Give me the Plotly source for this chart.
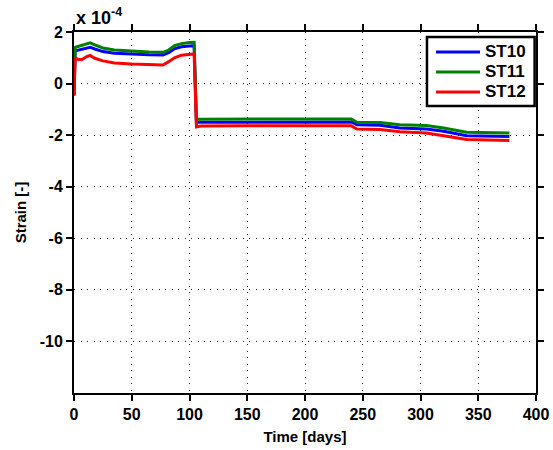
import plotly.graph_objects as go

# Time in days (shared sampling for all series)
days = [0, 1, 2, 4, 7, 11, 14, 18, 25, 35, 50, 65, 77, 82, 87, 93, 100, 104, 106, 110,
        150, 200, 240, 245, 265, 282, 305, 320, 340, 377]

# Strain values in units of 1e-4
st10 = [-0.45, 1.25, 1.28, 1.30, 1.33, 1.38, 1.41, 1.34, 1.24, 1.18, 1.14, 1.12, 1.11, 1.20,
        1.35, 1.43, 1.46, 1.47, -1.50, -1.50, -1.49, -1.49, -1.49, -1.60, -1.62, -1.72, -1.76,
        -1.85, -2.02, -2.05]
st11 = [-0.47, 1.40, 1.42, 1.45, 1.48, 1.55, 1.58, 1.50, 1.38, 1.30, 1.25, 1.22, 1.21, 1.30,
        1.47, 1.55, 1.59, 1.60, -1.38, -1.38, -1.37, -1.37, -1.37, -1.50, -1.51, -1.60, -1.63,
        -1.72, -1.89, -1.92]
st12 = [-0.45, 0.96, 0.97, 0.93, 0.93, 1.05, 1.09, 0.98, 0.88, 0.80, 0.76, 0.74, 0.72, 0.85,
        1.00, 1.10, 1.14, 1.15, -1.68, -1.65, -1.64, -1.64, -1.64, -1.76, -1.78, -1.87, -1.92,
        -2.02, -2.17, -2.21]

series_names = ["ST10", "ST11", "ST12"]
series_values = [st10, st11, st12]
colors = ["#0000ff", "#008000", "#ff0000"]

x_ticks = [0, 50, 100, 150, 200, 250, 300, 350, 400]
y_ticks = [2, 0, -2, -4, -6, -8, -10]
y_ticklabels = ["2", "0", "-2", "-4", "-6", "-8", "-10"]

fig = go.Figure()
for name, vals, c in zip(series_names, series_values, colors):
    fig.add_trace(go.Scatter(x=days, y=vals, mode="lines", name=name,
                             line=dict(color=c, width=3), showlegend=False))

font_family = "Liberation Sans, Arial, sans-serif"
axis_common = dict(
    showline=True, linecolor="black", linewidth=2, mirror="ticks",
    ticks="outside", ticklen=6, tickwidth=1.5, tickcolor="black",
    showgrid=True, gridcolor="#222222", griddash="1px,5.5px", gridwidth=1,
    zeroline=False, automargin=False,
    tickfont=dict(family=font_family, size=16, color="black", weight="bold"),
)

fig.update_layout(
    width=553, height=450,
    margin=dict(l=74, r=17, t=32, b=57),
    paper_bgcolor="white", plot_bgcolor="white",
    showlegend=False,
    xaxis=dict(range=[0, 400], tickvals=x_ticks,
               title=dict(text="Time [days]", standoff=9,
                          font=dict(family=font_family, size=15, color="black", weight="bold")),
               **axis_common),
    yaxis=dict(range=[-12, 2], tickvals=y_ticks, ticktext=y_ticklabels,
               title=dict(text="Strain [-]", standoff=9,
                          font=dict(family=font_family, size=15, color="black", weight="bold")),
               **axis_common),
)

# Legend box (MATLAB style), drawn in paper coordinates
fig.add_shape(type="rect", xref="paper", yref="paper", x0=0.764, x1=0.997, y0=0.795, y1=0.986,
              line=dict(color="black", width=2.5), fillcolor="white", layer="above")
legend_rows_y = [0.9446, 0.8892, 0.8338]
for name, c, yy in zip(series_names, colors, legend_rows_y):
    fig.add_shape(type="line", xref="paper", yref="paper", x0=0.7835, x1=0.8788, y0=yy, y1=yy,
                  line=dict(color=c, width=3), layer="above")
    fig.add_annotation(xref="paper", yref="paper", x=0.8853, y=yy, xanchor="left",
                       yanchor="middle", text=name, showarrow=False,
                       font=dict(family=font_family, size=17, color="black", weight="bold"))

fig.add_annotation(xref="paper", yref="paper", x=0.0, y=1.0, xanchor="left", yanchor="bottom",
                   text="x 10<sup>-4</sup>", showarrow=False, yshift=2,
                   font=dict(family=font_family, size=18, color="black", weight="bold"))

fig.write_html("out.html", post_script="document.body.style.margin='0';",
               config={"displayModeBar": False})
